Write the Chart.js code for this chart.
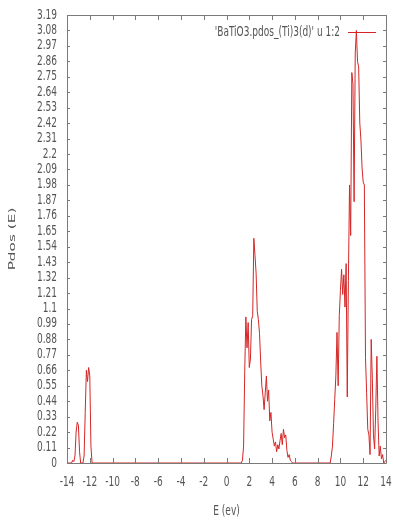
<!DOCTYPE html>
<html>
<head>
<meta charset="utf-8">
<script src="https://cdn.jsdelivr.net/npm/chart.js@4.4.1/dist/chart.umd.min.js"></script>
<style>
  html, body { margin: 0; padding: 0; background: #ffffff; }
  canvas { display: block; }
</style>
</head>
<body>
<canvas id="pdos" width="393" height="520"></canvas>
<script>
// Projected DOS of Ti 3d states in BaTiO3, column 1 = energy (eV), column 2 = pdos
const energies = [
  -14.0, -13.6, -13.5, -13.4, -13.3, -13.2, -13.1, -13.0, -12.9, -12.8,
  -12.6, -12.5, -12.4, -12.3, -12.2, -12.1, -12.0, -11.9, -11.8,
  1.3, 1.4, 1.5, 1.6, 1.7, 1.8, 1.9, 2.0, 2.1, 2.2, 2.3, 2.4, 2.5, 2.6, 2.7, 2.8, 2.9,
  3.0, 3.1, 3.2, 3.3, 3.4, 3.5, 3.6, 3.7, 3.8, 3.9, 4.0, 4.1, 4.2, 4.3, 4.4, 4.5, 4.6,
  4.7, 4.8, 4.9, 5.0, 5.1, 5.2, 5.3, 5.4, 5.5, 5.6, 5.7, 5.8, 6.0,
  9.1, 9.2, 9.3, 9.4, 9.5, 9.6, 9.7, 9.8, 9.9, 10.0, 10.1, 10.2, 10.3, 10.4, 10.5,
  10.6, 10.7, 10.8, 10.9, 11.0, 11.1, 11.2, 11.3, 11.4, 11.5, 11.6, 11.7, 11.8, 11.9,
  12.0, 12.1, 12.2, 12.3, 12.4, 12.5, 12.6, 12.7, 12.8, 12.9, 13.0, 13.1, 13.2, 13.3,
  13.4, 13.5, 13.6, 13.7, 13.8, 14.0
];
const pdos = [
  0, 0, 0.02, 0.01, 0.05, 0.22, 0.29, 0.27, 0.08, 0,
  0, 0.05, 0.36, 0.66, 0.58, 0.68, 0.62, 0.12, 0,
  0, 0.02, 0.12, 0.65, 1.04, 0.82, 1.00, 0.68, 0.74, 1.02, 1.05, 1.60, 1.48, 1.35, 1.08, 1.02, 0.92,
  0.72, 0.55, 0.48, 0.38, 0.50, 0.62, 0.44, 0.52, 0.30, 0.36, 0.22, 0.17, 0.12, 0.15, 0.08, 0.13, 0.10,
  0.16, 0.21, 0.13, 0.24, 0.18, 0.20, 0.09, 0.04, 0.06, 0.02, 0.01, 0, 0,
  0, 0.05, 0.12, 0.28, 0.45, 0.62, 0.93, 0.55, 1.05, 1.23, 1.38, 1.20, 1.34, 1.11, 1.42,
  0.47, 1.30, 1.98, 1.62, 2.78, 2.70, 1.86, 2.92, 3.08, 2.86, 2.82, 2.42, 2.30, 2.10,
  2.00, 1.98, 0.75, 0.50, 0.24, 0.20, 0.06, 0.88, 0.60, 0.20, 0.10, 0.38, 0.76, 0.30,
  0.05, 0.12, 0.03, 0.06, 0, 0.02
];
const xTicks = [-14, -12, -10, -8, -6, -4, -2, 0, 2, 4, 6, 8, 10, 12, 14];
const xTickLabels = ['-14', '-12', '-10', '-8', '-6', '-4', '-2', '0', '2', '4', '6', '8', '10', '12', '14'];
const yTicks = [0, 0.11, 0.22, 0.33, 0.44, 0.55, 0.66, 0.77, 0.88, 0.99, 1.1, 1.21, 1.32, 1.43, 1.54,
  1.65, 1.76, 1.87, 1.98, 2.09, 2.2, 2.31, 2.42, 2.53, 2.64, 2.75, 2.86, 2.97, 3.08, 3.19];
const yTickLabels = ['0', '0.11', '0.22', '0.33', '0.44', '0.55', '0.66', '0.77', '0.88', '0.99', '1.1',
  '1.21', '1.32', '1.43', '1.54', '1.65', '1.76', '1.87', '1.98', '2.09', '2.2', '2.31', '2.42', '2.53',
  '2.64', '2.75', '2.86', '2.97', '3.08', '3.19'];
const seriesLabel = "'BaTiO3.pdos_(Ti)3(d)' u 1:2";
const xTitle = 'E (ev)';
const yTitle = 'Pdos (E)';

const LINE_COLOR = 'rgb(212, 38, 38)';
const TEXT_COLOR = '#555555';
const FRAME_COLOR = '#7a7a7a';
const FONT = '9px "DejaVu Sans", sans-serif';

// text drawn with a vertical stretch, gnuplot-terminal look
function stretchedText(ctx, text, x, y, align, sx, sy, rot) {
  ctx.save();
  ctx.translate(x, y);
  if (rot) ctx.rotate(rot);
  ctx.scale(sx, sy);
  ctx.textAlign = align;
  ctx.textBaseline = 'middle';
  ctx.fillText(text, 0, 0);
  ctx.restore();
}

// gnuplot-style frame: full border, inward mirrored ticks, labels and key
const framePlugin = {
  id: 'gnuplotFrame',
  afterDraw(chart) {
    const { ctx, chartArea: a, scales } = chart;
    const xs = scales.x, ys = scales.y;
    ctx.save();
    ctx.strokeStyle = FRAME_COLOR;
    ctx.lineWidth = 1;
    ctx.beginPath();
    ctx.rect(Math.round(a.left) + 0.5, Math.round(a.top) + 0.5,
             Math.round(a.right - a.left), Math.round(a.bottom - a.top));
    ctx.stroke();

    ctx.beginPath();
    xTicks.forEach(v => {
      const px = Math.round(xs.getPixelForValue(v)) + 0.5;
      ctx.moveTo(px, a.bottom); ctx.lineTo(px, a.bottom - 5);
      ctx.moveTo(px, a.top); ctx.lineTo(px, a.top + 5);
    });
    yTicks.forEach(v => {
      const py = Math.round(ys.getPixelForValue(v)) + 0.5;
      ctx.moveTo(a.left, py); ctx.lineTo(a.left + 3, py);
      ctx.moveTo(a.right, py); ctx.lineTo(a.right - 3, py);
    });
    ctx.stroke();

    ctx.fillStyle = TEXT_COLOR;
    ctx.font = FONT;
    yTicks.forEach((v, i) => {
      stretchedText(ctx, yTickLabels[i], a.left - 10, ys.getPixelForValue(v), 'right', 1, 1.5);
    });
    xTicks.forEach((v, i) => {
      stretchedText(ctx, xTickLabels[i], xs.getPixelForValue(v), a.bottom + 19, 'center', 1, 1.5);
    });
    stretchedText(ctx, xTitle, (a.left + a.right) / 2, 511, 'center', 1, 1.5);
    stretchedText(ctx, yTitle, 13, (a.top + a.bottom) / 2, 'center', 1.7, 1.0, -Math.PI / 2);

    // key
    stretchedText(ctx, seriesLabel, 340, 32, 'right', 1, 1.5);
    ctx.strokeStyle = LINE_COLOR;
    ctx.beginPath();
    ctx.moveTo(348, 32.5); ctx.lineTo(376, 32.5);
    ctx.stroke();
    ctx.restore();
  }
};

new Chart(document.getElementById('pdos'), {
  type: 'line',
  data: {
    datasets: [{
      label: seriesLabel,
      data: energies.map((e, i) => ({ x: e, y: pdos[i] })),
      borderColor: LINE_COLOR,
      borderWidth: 1,
      pointRadius: 0,
      tension: 0,
      fill: false
    }]
  },
  options: {
    responsive: false,
    animation: false,
    devicePixelRatio: 1,
    layout: { padding: { left: 0, right: 7, top: 15, bottom: 0 } },
    plugins: { legend: { display: false }, tooltip: { enabled: false } },
    scales: {
      x: {
        type: 'linear', min: -14, max: 14,
        grid: { display: false }, border: { display: false },
        ticks: { display: false },
        afterFit(s) { s.height = 57; }
      },
      y: {
        type: 'linear', min: 0, max: 3.19,
        grid: { display: false }, border: { display: false },
        ticks: { display: false },
        afterFit(s) { s.width = 67; }
      }
    }
  },
  plugins: [framePlugin]
});
</script>
</body>
</html>
